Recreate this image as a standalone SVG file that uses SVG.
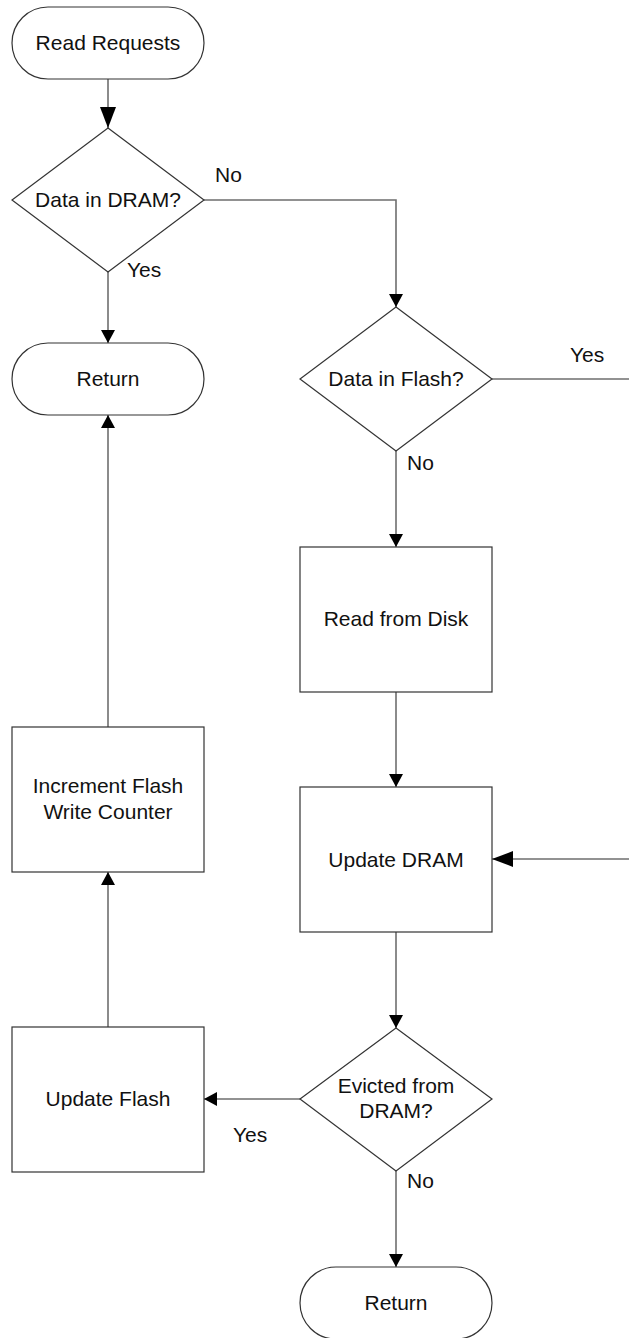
<svg xmlns="http://www.w3.org/2000/svg" width="629" height="1338" viewBox="0 0 629 1338">
  <style>
    .shape { fill: #ffffff; stroke: #333333; stroke-width: 1.2; }
    .edge { fill: none; stroke: #6e6e6e; stroke-width: 1.6; }
    .lbl { font-family: "Liberation Sans", Arial, sans-serif; font-size: 21px; fill: #111111; }
    .mid { text-anchor: middle; }
  </style>
  <defs>
    <marker id="arrow" viewBox="0 0 13 14" refX="13" refY="7" markerWidth="13" markerHeight="14" markerUnits="userSpaceOnUse" orient="auto">
      <path d="M0,0 L13,7 L0,14 Z" fill="#000000"/>
    </marker>
    <marker id="arrowBig" viewBox="0 0 21 16" refX="21" refY="8" markerWidth="21" markerHeight="16" markerUnits="userSpaceOnUse" orient="auto">
      <path d="M0,0 L21,8 L0,16 Z" fill="#000000"/>
    </marker>
  </defs>

  <rect width="629" height="1338" fill="#ffffff"/>

  <!-- connectors -->
  <g id="connectors">
    <line class="edge" x1="108" y1="79" x2="108" y2="128" marker-end="url(#arrowBig)"/>
    <polyline class="edge" points="204,200 396,200 396,307" marker-end="url(#arrow)"/>
    <line class="edge" x1="108" y1="272" x2="108" y2="343" marker-end="url(#arrow)"/>
    <line class="edge" x1="492" y1="379" x2="629" y2="379"/>
    <line class="edge" x1="396" y1="451" x2="396" y2="547" marker-end="url(#arrow)"/>
    <line class="edge" x1="396" y1="692" x2="396" y2="787" marker-end="url(#arrow)"/>
    <line class="edge" x1="629" y1="859" x2="492" y2="859" marker-end="url(#arrowBig)"/>
    <line class="edge" x1="396" y1="932" x2="396" y2="1028" marker-end="url(#arrow)"/>
    <line class="edge" x1="300" y1="1099" x2="204" y2="1099" marker-end="url(#arrow)"/>
    <line class="edge" x1="108" y1="1027" x2="108" y2="872" marker-end="url(#arrow)"/>
    <line class="edge" x1="108" y1="727" x2="108" y2="415" marker-end="url(#arrow)"/>
    <line class="edge" x1="396" y1="1171" x2="396" y2="1267" marker-end="url(#arrow)"/>
  </g>

  <g id="read-requests">
    <rect class="shape" x="12" y="7" width="192" height="72" rx="36" ry="36"/>
    <text class="lbl mid" x="108" y="50">Read Requests</text>
  </g>

  <g id="data-in-dram">
    <polygon class="shape" points="108,128 204,200 108,272 12,200"/>
    <text class="lbl mid" x="108" y="207">Data in DRAM?</text>
    <text class="lbl" x="215" y="182">No</text>
    <text class="lbl" x="127" y="277">Yes</text>
  </g>

  <g id="return-top">
    <rect class="shape" x="12" y="343" width="192" height="72" rx="36" ry="36"/>
    <text class="lbl mid" x="108" y="386">Return</text>
  </g>

  <g id="data-in-flash">
    <polygon class="shape" points="396,307 492,379 396,451 300,379"/>
    <text class="lbl mid" x="396" y="386">Data in Flash?</text>
    <text class="lbl" x="570" y="362">Yes</text>
    <text class="lbl" x="407" y="470">No</text>
  </g>

  <g id="read-from-disk">
    <rect class="shape" x="300" y="547" width="192" height="145"/>
    <text class="lbl mid" x="396" y="626">Read from Disk</text>
  </g>

  <g id="update-dram">
    <rect class="shape" x="300" y="787" width="192" height="145"/>
    <text class="lbl mid" x="396" y="867">Update DRAM</text>
  </g>

  <g id="evicted-from-dram">
    <polygon class="shape" points="396,1028 492,1099 396,1171 300,1099"/>
    <text class="lbl mid" x="396" y="1093">Evicted from</text>
    <text class="lbl mid" x="396" y="1118">DRAM?</text>
    <text class="lbl" x="233" y="1142">Yes</text>
    <text class="lbl" x="407" y="1188">No</text>
  </g>

  <g id="update-flash">
    <rect class="shape" x="12" y="1027" width="192" height="145"/>
    <text class="lbl mid" x="108" y="1106">Update Flash</text>
  </g>

  <g id="increment-counter">
    <rect class="shape" x="12" y="727" width="192" height="145"/>
    <text class="lbl mid" x="108" y="793">Increment Flash</text>
    <text class="lbl mid" x="108" y="819">Write Counter</text>
  </g>

  <g id="return-bottom">
    <rect class="shape" x="300" y="1267" width="192" height="72" rx="36" ry="36"/>
    <text class="lbl mid" x="396" y="1310">Return</text>
  </g>
</svg>
